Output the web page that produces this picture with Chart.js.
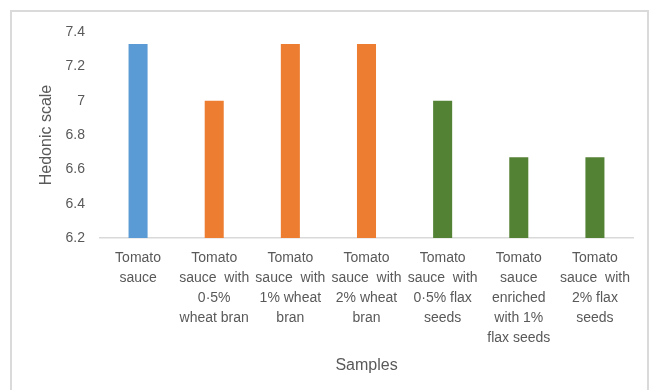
<!DOCTYPE html>
<html>
<head>
<meta charset="utf-8">
<script src="https://cdn.jsdelivr.net/npm/chart.js@4/dist/chart.umd.min.js"></script>
<style>
  html, body { margin: 0; padding: 0; background: #ffffff; }
  #wrap { position: relative; width: 653px; height: 390px; overflow: hidden; }
  #frame { position: absolute; left: 10px; top: 10px; width: 639px; height: 420px;
           border: 2px solid #dadada; box-sizing: border-box; }
  #chart { position: absolute; left: 0; top: 0; }
</style>
</head>
<body>
<div id="wrap">
  <div id="frame"></div>
  <canvas id="chart" width="653" height="390"></canvas>
</div>
<script>
// Sample names, one array of lines per category
const samples = [
  ["Tomato", "sauce"],
  ["Tomato", "sauce  with", "0·5%", "wheat bran"],
  ["Tomato", "sauce  with", "1% wheat", "bran"],
  ["Tomato", "sauce  with", "2% wheat", "bran"],
  ["Tomato", "sauce  with", "0·5% flax", "seeds"],
  ["Tomato", "sauce", "enriched", "with 1%", "flax seeds"],
  ["Tomato", "sauce  with", "2% flax", "seeds"]
];

// Mean hedonic scores
const hedonicScores = [7.33, 7.0, 7.33, 7.33, 7.0, 6.67, 6.67];

// Axis range
const yMin = 6.2;
const yMax = 7.4;
const yStep = 0.2;

// Control in blue, wheat bran in orange, flax seeds in green
const barColors = ["#5B9BD5", "#ED7D31", "#ED7D31", "#ED7D31", "#548235", "#548235", "#548235"];

const textGray = "#595959";
const fontFamily = "'Liberation Sans', Arial, sans-serif";

new Chart(document.getElementById("chart"), {
  type: "bar",
  data: {
    labels: samples,
    datasets: [{
      data: hedonicScores,
      backgroundColor: barColors,
      borderWidth: 0,
      categoryPercentage: 1.0,
      barPercentage: 0.25
    }]
  },
  options: {
    responsive: false,
    animation: false,
    devicePixelRatio: 1,
    layout: { padding: { top: 32, right: 20, left: 0, bottom: 0 } },
    plugins: {
      legend: { display: false },
      tooltip: { enabled: false }
    },
    scales: {
      x: {
        grid: { display: false, drawTicks: false },
        border: { display: true, color: "#d9d9d9", width: 1.5 },
        ticks: {
          color: textGray,
          font: { family: fontFamily, size: 14, lineHeight: 1.43 },
          padding: 10,
          maxRotation: 0,
          minRotation: 0,
          autoSkip: false
        },
        title: {
          display: true,
          text: "Samples",
          color: textGray,
          font: { family: fontFamily, size: 16, lineHeight: 1.2 },
          padding: { top: 0, bottom: 15 }
        },
        afterFit: (scale) => { scale.height = 152; }
      },
      y: {
        min: yMin,
        max: yMax,
        grid: { display: false, drawTicks: false },
        border: { display: false },
        ticks: {
          stepSize: yStep,
          color: textGray,
          font: { family: fontFamily, size: 14 },
          padding: 15,
          callback: (v) => String(parseFloat(Number(v).toFixed(1)))
        },
        title: {
          display: true,
          text: "Hedonic scale",
          color: textGray,
          font: { family: fontFamily, size: 16, lineHeight: 1.2 },
          padding: { top: 37, bottom: 0 }
        },
        afterFit: (scale) => { scale.width = 100; }
      }
    }
  }
});
</script>
</body>
</html>
